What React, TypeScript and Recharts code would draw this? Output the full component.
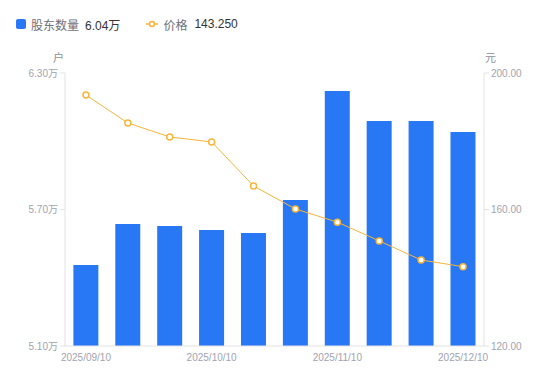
import React from "react";
import { ComposedChart, Bar, Line, XAxis, YAxis } from "recharts";

const dates = [
  "2025/09/10", "2025/09/20", "2025/09/30", "2025/10/10", "2025/10/20",
  "2025/10/31", "2025/11/10", "2025/11/20", "2025/11/30", "2025/12/10",
];
const holders = [5.456, 5.636, 5.628, 5.61, 5.597, 5.742, 6.221, 6.089, 6.089, 6.041];
const prices = [193.55, 185.35, 181.25, 179.8, 166.9, 160.15, 156.3, 150.8, 145.2, 143.25];
const leftTicks = [5.1, 5.7, 6.3];
const rightTicks = [120, 160, 200];

const data = dates.map((d, i) => ({ date: d, holders: holders[i], price: prices[i] }));

const BLUE = "#2878F5";
const ORANGE = "#F7B53A";
const FONT = "'Liberation Sans', 'Noto Sans CJK SC', sans-serif";
const TICK = { fontSize: 10, fill: "#A0A3B1", fontFamily: FONT };
const AXIS = "#E3E3E6";

const XTick = (props: any) => {
  const { x, y, payload } = props;
  return (
    <text x={x} y={y} dy={15} textAnchor="middle" fontSize={10} fill="#A0A3B1" fontFamily={FONT}>
      {payload.value}
    </text>
  );
};

export default function App() {
  return (
    <div style={{ position: "absolute", left: 0, top: 0, width: 550, height: 381, fontFamily: FONT, background: "#fff" }}>
      <div style={{ position: "absolute", left: 16, top: 16, height: 16, display: "flex", alignItems: "center", fontSize: 12, whiteSpace: "nowrap" }}>
        <span style={{ display: "inline-block", width: 10, height: 10, background: BLUE, borderRadius: 2, marginRight: 5 }} />
        <span style={{ color: "#6E7079" }}>股东数量</span>
        <span style={{ color: "#333", marginLeft: 6 }}>6.04万</span>
        <svg width="12" height="10" style={{ marginLeft: 26, marginRight: 5 }}>
          <line x1="0" y1="5" x2="12" y2="5" stroke={ORANGE} strokeWidth="1.5" />
          <circle cx="6" cy="5" r="2.5" fill="#fff" stroke={ORANGE} strokeWidth="1.5" />
        </svg>
        <span style={{ color: "#6E7079" }}>价格</span>
        <span style={{ color: "#333", marginLeft: 7 }}>143.250</span>
      </div>
      <div style={{ position: "absolute", left: 53, top: 49, fontSize: 11, color: "#8D909B" }}>户</div>
      <div style={{ position: "absolute", left: 485, top: 49, fontSize: 11, color: "#8D909B" }}>元</div>
      <ComposedChart
        width={550}
        height={381}
        data={data}
        margin={{ top: 73, right: 0, bottom: 5, left: 0 }}
        barCategoryGap="20%"
      >
        <XAxis
          dataKey="date"
          interval={2}
          tickLine={false}
          tickSize={0}
          tickMargin={0}
          axisLine={{ stroke: AXIS }}
          tick={<XTick />}
          height={30}
        />
        <YAxis
          yAxisId="left"
          orientation="left"
          width={65}
          domain={[5.1, 6.3]}
          ticks={leftTicks}
          tickFormatter={(v: number) => v.toFixed(2) + "万"}
          axisLine={{ stroke: AXIS }}
          tickLine={{ stroke: AXIS }}
          tickSize={5}
          tick={TICK}
          allowDataOverflow
        />
        <YAxis
          yAxisId="right"
          orientation="right"
          width={66}
          domain={[120, 200]}
          ticks={rightTicks}
          tickFormatter={(v: number) => v.toFixed(2)}
          axisLine={{ stroke: AXIS }}
          tickLine={{ stroke: AXIS }}
          tickSize={5}
          tick={TICK}
        />
        <Bar yAxisId="left" dataKey="holders" fill={BLUE} isAnimationActive={false} />
        <Line
          yAxisId="right"
          dataKey="price"
          stroke={ORANGE}
          strokeWidth={1}
          dot={{ r: 3, fill: "#fff", stroke: ORANGE, strokeWidth: 1.5 }}
          isAnimationActive={false}
        />
      </ComposedChart>
    </div>
  );
}
